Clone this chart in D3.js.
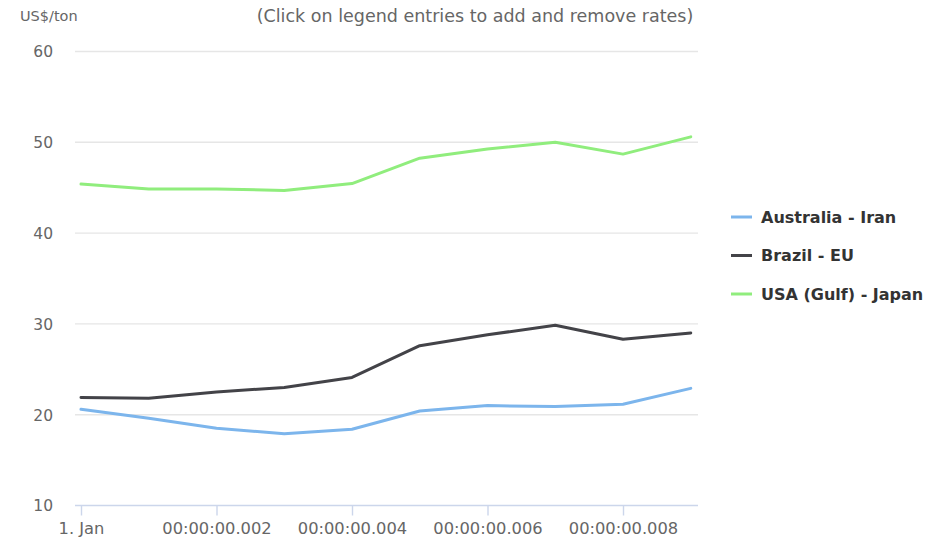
<!DOCTYPE html>
<html>
<head>
<meta charset="utf-8">
<script src="https://cdn.jsdelivr.net/npm/d3@7"></script>
<style>
  html, body { margin: 0; padding: 0; background: #fff; }
  svg { display: block; font-family: "DejaVu Sans", "Lucida Grande", sans-serif; }
</style>
</head>
<body>
<svg id="chart" width="942" height="537"></svg>
<script>
// Freight rates, US$ per ton
const points = [0, 1, 2, 3, 4, 5, 6, 7, 8, 9];
const australiaIran = [20.6, 19.6, 18.5, 17.9, 18.4, 20.4, 21.0, 20.9, 21.15, 22.9];
const brazilEU = [21.9, 21.8, 22.5, 23.0, 24.1, 27.6, 28.8, 29.85, 28.3, 29.0];
const usaGulfJapan = [45.4, 44.85, 44.85, 44.7, 45.45, 48.25, 49.25, 50.0, 48.7, 50.6];
const seriesNames = ["Australia - Iran", "Brazil - EU", "USA (Gulf) - Japan"];
const seriesColors = ["#7cb5ec", "#434348", "#90ed7d"];
const yTicks = [10, 20, 30, 40, 50, 60];
const xTickPoints = [0, 2, 4, 6, 8];
const xTickLabels = ["1. Jan", "00:00:00.002", "00:00:00.004", "00:00:00.006", "00:00:00.008"];

const series = [australiaIran, brazilEU, usaGulfJapan];

const svg = d3.select("#chart");
const plotLeft = 75, plotRight = 698;

const x = d3.scaleLinear().domain([0, 9]).range([81, 690.75]);
const y = d3.scaleLinear().domain([10, 60]).range([505.5, 51.5]);

// horizontal grid
svg.append("g")
  .selectAll("line")
  .data(yTicks.filter(d => d !== 10))
  .join("line")
  .attr("x1", plotLeft).attr("x2", plotRight)
  .attr("y1", d => y(d)).attr("y2", d => y(d))
  .attr("stroke", "#e6e6e6").attr("stroke-width", 1.4);

// y axis labels
const yAxis = d3.axisLeft(y).tickValues(yTicks).tickSize(0).tickPadding(0);
const gy = svg.append("g").attr("transform", "translate(53,0)").call(yAxis);
gy.select(".domain").remove();
gy.selectAll("text")
  .attr("fill", "#666").attr("font-size", 15.5).attr("font-family", "DejaVu Sans, sans-serif")
  .attr("dy", "0.35em");

// x axis
const xAxis = d3.axisBottom(x).tickValues(xTickPoints)
  .tickFormat((d, i) => xTickLabels[i]).tickSize(10).tickPadding(7).tickSizeOuter(0);
const gx = svg.append("g").attr("transform", `translate(0,${y(10)})`).call(xAxis);
gx.select(".domain").attr("d", `M${plotLeft},0H${plotRight}`)
  .attr("stroke", "#ccd6eb").attr("stroke-width", 1.4);
gx.selectAll(".tick line").attr("stroke", "#ccd6eb").attr("stroke-width", 1.4);
gx.selectAll(".tick text")
  .attr("fill", "#666").attr("font-size", 16.3).attr("font-family", "DejaVu Sans, sans-serif")
  .attr("text-anchor", "middle");

// axis title and note
svg.append("text").attr("x", 20).attr("y", 21)
  .attr("fill", "#666").attr("font-size", 14.5).text("US$/ton");
svg.append("text").attr("x", 475).attr("y", 22)
  .attr("text-anchor", "middle").attr("fill", "#666").attr("font-size", 17.5)
  .text("(Click on legend entries to add and remove rates)");

// lines
const line = d3.line().x((d, i) => x(points[i])).y(d => y(d));
svg.append("g").selectAll("path")
  .data(series)
  .join("path")
  .attr("d", line)
  .attr("fill", "none")
  .attr("stroke", (d, i) => seriesColors[i])
  .attr("stroke-width", 3)
  .attr("stroke-linejoin", "round")
  .attr("stroke-linecap", "round");

// legend
const legend = svg.append("g").selectAll("g")
  .data(seriesNames)
  .join("g")
  .attr("transform", (d, i) => `translate(731,${217 + i * 38.5})`);
legend.append("line")
  .attr("x1", 0).attr("x2", 21).attr("y1", 0).attr("y2", 0)
  .attr("stroke", (d, i) => seriesColors[i]).attr("stroke-width", 3);
legend.append("text")
  .attr("x", 30).attr("y", 0).attr("dy", "0.35em")
  .attr("fill", "#333").attr("font-size", 16).attr("font-weight", "bold")
  .text(d => d);
</script>
</body>
</html>
